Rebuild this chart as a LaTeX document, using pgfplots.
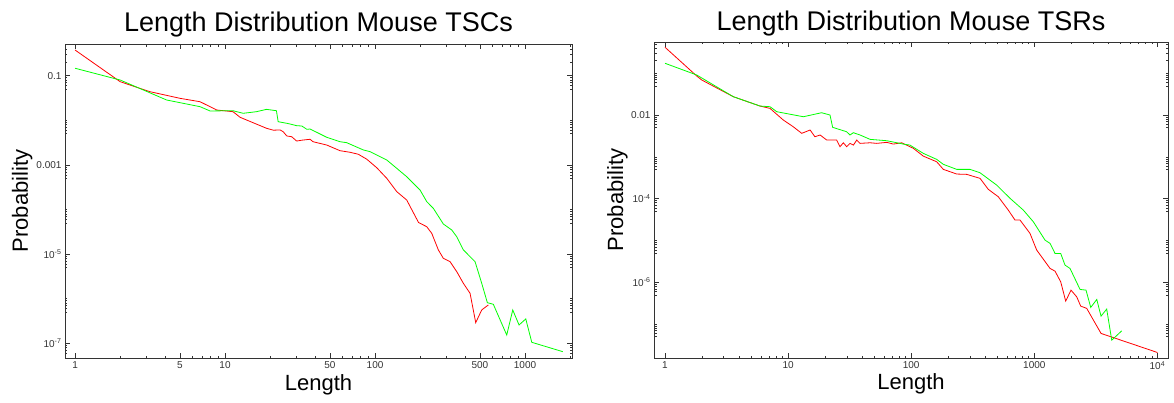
\documentclass[border=0pt]{standalone}
\usepackage{fontspec}
\setmainfont{Liberation Sans}
\usepackage{pgfplots}
\pgfplotsset{compat=1.18}

\definecolor{mred}{rgb}{1,0,0}
\definecolor{mgreen}{rgb}{0,1,0}
\definecolor{framegray}{gray}{0.2}

\begin{document}
\begin{tikzpicture}
\useasboundingbox (0,0) rectangle (1174pt,402pt);

% === TSCs ===
\begin{axis}[
  scale only axis, xmode=log, ymode=log,
  axis line style={framegray, line width=0.8pt},
  tick align=inside,
  major tick length=5pt, minor tick length=2.5pt,
  tick style={framegray, line width=0.5pt},
  tick label style={font=\fontsize{10}{12}\selectfont, text=black!80},
  label style={font=\fontsize{22}{26}\selectfont},
  at={(65pt,44pt)}, anchor=south west,
  width=507pt, height=314pt,
  xmin=0.857, xmax=2056, ymin=4.67e-8, ymax=0.514,
  xtick={1,5,10,50,100,500,1000},
  xticklabels={1,5,10,50,100,500,1000},
  minor xtick={2,3,4,6,7,8,9,20,30,40,60,70,80,90,200,300,400,600,700,800,900,2000},
  ytick={1e-7,1e-5,1e-3,1e-1},
  yticklabels={10\textsuperscript{-7},10\textsuperscript{-5},0.001,0.1},
  minor ytick={1e-6,1e-4,1e-2,
    6e-8,7e-8,8e-8,9e-8,5e-7,6e-7,7e-7,8e-7,9e-7,
    5e-6,6e-6,7e-6,8e-6,9e-6,5e-5,6e-5,7e-5,8e-5,9e-5,
    5e-4,6e-4,7e-4,8e-4,9e-4,5e-3,6e-3,7e-3,8e-3,9e-3,
    5e-2,6e-2,7e-2,8e-2,9e-2,2e-1,3e-1,4e-1,5e-1},
  title={Length Distribution Mouse TSCs},
  title style={font=\fontsize{27}{30}\selectfont, at={(0.5,1.022)}, anchor=base},
  xlabel={Length},
  xlabel style={at={(axis description cs:0.5,-0.102)}, anchor=base},
  ylabel={Probability},
  ylabel style={at={(axis description cs:-0.073,0.5)}, anchor=base},
]
\addplot[mred, line width=0.8pt, no markers] coordinates {
  (1,0.377) (2,0.0733) (3.16,0.0438) (5.01,0.0311) (6.81,0.0261)
  (8.81,0.0170) (11.3,0.0156) (12.6,0.01167) (18.9,6.62e-3) (21,6.0e-3)
  (23.3,6.07e-3) (24.4,5.55e-3) (25.8,4.45e-3) (27.8,4.29e-3) (30.0,3.43e-3)
  (33.1,3.61e-3) (36.9,3.75e-3) (38.6,3.31e-3) (47.6,2.79e-3) (58.4,2.08e-3)
  (68.1,1.92e-3) (77.4,1.73e-3) (88.1,1.34e-3) (102.6,8.65e-4) (119.6,5.01e-4)
  (139.6,2.51e-4) (162.6,1.63e-4) (195,5.1e-5) (221.1,4.11e-5) (238.8,2.92e-5)
  (264.2,1.24e-5) (285.2,8.05e-6) (316.2,6.76e-6) (350.6,4.03e-6) (388,2.21e-6)
  (429.9,1.32e-6) (469,2.90e-7) (514.2,5.58e-7) (569,7.23e-7)
};
\addplot[mgreen, line width=0.8pt, no markers] coordinates {
  (1,0.147) (2,0.080) (4.08,0.0285) (6.81,0.0202) (7.94,0.0162)
  (11.3,0.0164) (13.2,0.01435) (16.2,0.0156) (18.9,0.0176) (22.0,0.0164)
  (22.6,9.3e-3) (25.8,8.57e-3) (27.1,8.26e-3) (30.0,7.57e-3) (32.5,7.45e-3)
  (35.1,6.28e-3) (36.9,6.38e-3) (47.6,4.16e-3) (58.4,3.31e-3) (64.7,3.15e-3)
  (83.6,2.16e-3) (92.6,1.98e-3) (119.6,1.29e-3) (162.6,5.44e-4) (199.5,2.74e-4)
  (221.1,1.50e-4) (244.7,1.06e-4) (285.2,4.73e-5) (324.6,3.47e-5) (350.6,2.45e-5)
  (388,1.24e-5) (464.2,6.76e-6) (514.2,2.21e-6) (560.7,8.13e-7) (614.6,7.48e-7)
  (755,1.53e-7) (828,5.58e-7) (912,2.57e-7) (1011,3.51e-7) (1109,1.05e-7)
  (1784,6.48e-8)
};
\end{axis}

% === TSRs ===
\begin{axis}[
  scale only axis, xmode=log, ymode=log,
  axis line style={framegray, line width=0.8pt},
  tick align=inside,
  major tick length=5pt, minor tick length=2.5pt,
  tick style={framegray, line width=0.5pt},
  tick label style={font=\fontsize{10}{12}\selectfont, text=black!80},
  label style={font=\fontsize{22}{26}\selectfont},
  at={(654pt,44pt)}, anchor=south west,
  width=514pt, height=316pt,
  xmin=0.814, xmax=12190, ymin=1.55e-8, ymax=0.557,
  xtick={1,10,100,1000,10000},
  xticklabels={1,10,100,1000,10\textsuperscript{4}},
  minor xtick={2,3,4,5,6,7,8,9,20,30,40,50,60,70,80,90,200,300,400,500,600,700,800,900,
    2000,3000,4000,5000,6000,7000,8000,9000},
  ytick={1e-6,1e-4,1e-2},
  yticklabels={10\textsuperscript{-6},10\textsuperscript{-4},0.01},
  minor ytick={1e-7,1e-5,1e-3,1e-1,
    5e-8,6e-8,7e-8,8e-8,9e-8,5e-7,6e-7,7e-7,8e-7,9e-7,
    5e-6,6e-6,7e-6,8e-6,9e-6,5e-5,6e-5,7e-5,8e-5,9e-5,
    5e-4,6e-4,7e-4,8e-4,9e-4,5e-3,6e-3,7e-3,8e-3,9e-3,
    5e-2,6e-2,7e-2,8e-2,9e-2,2e-1,3e-1,4e-1,5e-1},
  title={Length Distribution Mouse TSRs},
  title style={font=\fontsize{27}{30}\selectfont, at={(0.5,1.016)}, anchor=base},
  xlabel={Length},
  xlabel style={at={(axis description cs:0.5,-0.101)}, anchor=base},
  ylabel={Probability},
  ylabel style={at={(axis description cs:-0.060,0.5)}, anchor=base},
]
\addplot[mred, line width=0.8pt, no markers] coordinates {
  (1,0.417) (1.81,0.0857) (1.99,0.0687) (3.59,0.0274) (5.91,0.0164)
  (7.13,0.0144) (9.14,7.59e-3) (11.0,5.25e-3) (12.9,3.65e-3) (15.1,4.38e-3)
  (16.5,3.03e-3) (18.2,3.33e-3) (20.6,2.52e-3) (24.8,2.52e-3) (26.4,1.75e-3)
  (28.1,2.17e-3) (29.9,1.75e-3) (31.8,2.10e-3) (33.9,1.91e-3) (36.1,2.52e-3)
  (38.4,2.10e-3) (46.3,2.17e-3) (52.5,2.10e-3) (63.3,2.22e-3) (71.6,2.02e-3)
  (83.7,2.17e-3) (104,1.60e-3) (125.4,1.04e-3) (161,7.63e-4) (182.4,5.02e-4)
  (234.3,3.88e-4) (282.5,3.81e-4) (362.2,3.06e-4) (422.9,1.67e-4) (510,1.11e-4)
  (614.6,5.33e-5) (697,3.08e-5) (765,3.08e-5) (922,1.48e-5) (1046,5.89e-6)
  (1342,2.15e-6) (1473,1.85e-6) (1638,1.03e-6) (1799,3.55e-7) (1986,6.50e-7)
  (2210,4.50e-7) (2381,2.70e-7) (2665,2.38e-7) (3483,6.0e-8) (10000,2.10e-8)
};
\addplot[mgreen, line width=0.8pt, no markers] coordinates {
  (1,0.1726) (1.81,0.0906) (3.59,0.0274) (5.91,0.0164) (7.13,0.0158)
  (8.08,0.0120) (13.3,9.1e-3) (18.7,0.01135) (21.9,0.0100) (23.0,5.08e-3)
  (29.9,3.98e-3) (31.8,3.33e-3) (33.9,3.78e-3) (38.4,3.33e-3) (46.3,2.62e-3)
  (63.3,2.43e-3) (86.3,2.02e-3) (97.7,1.91e-3) (125.4,1.21e-3) (161,8.71e-4)
  (182.4,6.62e-4) (234.3,5.02e-4) (300.4,5.02e-4) (362.2,4.17e-4) (494.6,2.11e-4)
  (635,1.02e-4) (814,5.33e-5) (982,2.80e-5) (1222,1.02e-5) (1342,8.53e-6)
  (1473,4.91e-6) (1638,4.91e-6) (1775,2.58e-6) (1950,2.15e-6) (2352,6.76e-7)
  (2630,6.50e-7) (2873,2.51e-7) (3216,3.90e-7) (3483,1.55e-7) (3873,2.29e-7)
  (4256,4.14e-8) (5129,6.92e-8)
};
\end{axis}
\end{tikzpicture}
\end{document}
